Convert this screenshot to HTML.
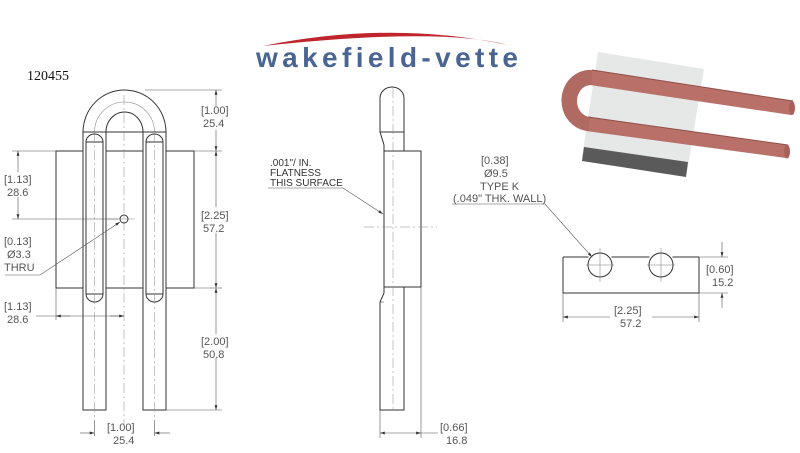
<!DOCTYPE html>
<html><head><meta charset="utf-8"><style>
html,body{margin:0;padding:0;background:#fff;}
svg{display:block}
text{font-family:"Liberation Sans",sans-serif;fill:#555}
</style></head><body>
<svg width="800" height="453" viewBox="0 0 800 453" xmlns="http://www.w3.org/2000/svg">
<defs>
<marker id="a" viewBox="0 0 10 6" refX="10" refY="3" markerWidth="8" markerHeight="5" orient="auto-start-reverse"><path d="M0,0L10,3L0,6z" fill="#333"/></marker>
</defs>
<path d="M263,46 Q390,20 508,45 Q440,27 263,46z" fill="#c0242c"/>
<text x="256" y="67" font-size="28" font-weight="bold" textLength="262" lengthAdjust="spacing" style="fill:#4a6592">wakefield-vette</text>
<text x="27" y="80" font-size="14" style="fill:#111;font-family:'Liberation Serif',serif">120455</text>

<g fill="none" stroke="#333" stroke-width="1">
<rect x="56" y="151" width="138" height="137"/>
<path d="M83,410 V132 A41.5,42 0 0 1 166,132 V410 H143 V132 A18.5,20 0 0 0 106,132 V410 Z" fill="#fff"/>
<line x1="83" y1="132" x2="166" y2="132"/>
<path d="M94.5,132 A30,30 0 0 1 154.5,132" stroke="#888" stroke-width="0.6"/>
<path d="M86,142 A8.5,8 0 0 1 103,142 V294 A8.5,8 0 0 1 86,294 Z"/>
<path d="M146,142 A8.5,8 0 0 1 163,142 V294 A8.5,8 0 0 1 146,294 Z"/>
<line x1="86" y1="142" x2="103" y2="142"/><line x1="86" y1="294" x2="103" y2="294"/>
<line x1="146" y1="142" x2="163" y2="142"/><line x1="146" y1="294" x2="163" y2="294"/>
<line x1="94.5" y1="132" x2="94.5" y2="420" stroke="#888" stroke-width="0.5" stroke-dasharray="10,3,2,3"/>
<line x1="154.5" y1="132" x2="154.5" y2="420" stroke="#888" stroke-width="0.5" stroke-dasharray="10,3,2,3"/>
<line x1="124" y1="95" x2="124" y2="425" stroke="#888" stroke-width="0.5" stroke-dasharray="10,3,2,3"/>
<line x1="106" y1="219" x2="135" y2="219" stroke="#888" stroke-width="0.5"/>
<circle cx="124" cy="219" r="4"/>
<g stroke-width="0.6" stroke="#555">
<line x1="145" y1="90" x2="222" y2="90"/><line x1="194" y1="151" x2="222" y2="151"/>
<line x1="194" y1="288" x2="222" y2="288"/><line x1="166" y1="410" x2="222" y2="410"/>
<line x1="216" y1="90" x2="216" y2="107" marker-start="url(#a)"/><line x1="216" y1="130" x2="216" y2="151" marker-end="url(#a)"/>
<line x1="216" y1="151" x2="216" y2="207" marker-start="url(#a)"/><line x1="216" y1="233" x2="216" y2="288" marker-end="url(#a)"/>
<line x1="216" y1="288" x2="216" y2="334" marker-start="url(#a)"/><line x1="216" y1="358" x2="216" y2="410" marker-end="url(#a)"/>
<line x1="12" y1="151" x2="56" y2="151"/><line x1="12" y1="219" x2="118" y2="219"/>
<line x1="18" y1="151" x2="18" y2="172" marker-start="url(#a)"/><line x1="18" y1="197" x2="18" y2="219" marker-end="url(#a)"/>
<line x1="56" y1="288" x2="56" y2="320"/>
<line x1="36" y1="316" x2="124" y2="316"/>
<line x1="56" y1="316" x2="70" y2="316" marker-start="url(#a)"/><line x1="110" y1="316" x2="124" y2="316" marker-end="url(#a)"/>
<line x1="94.5" y1="420" x2="94.5" y2="436"/><line x1="154.5" y1="420" x2="154.5" y2="436"/>
<line x1="80" y1="433" x2="94.5" y2="433" marker-end="url(#a)"/><line x1="170" y1="433" x2="154.5" y2="433" marker-end="url(#a)"/>
<polyline points="5,275 40,275 120,222" marker-end="url(#a)"/>
</g>

<path d="M380,132 V98 A12,11 0 0 1 404,98 V132 Z"/>
<path d="M380,132 L384,145 V151"/><line x1="404" y1="132" x2="404" y2="151"/>
<rect x="384" y="151" width="37" height="136"/>
<path d="M384,287 V293 L380,302 V410 H404 V287"/>
<line x1="380" y1="302" x2="384" y2="302" stroke-width="0.5"/>
<line x1="393" y1="88" x2="393" y2="412" stroke="#888" stroke-width="0.5" stroke-dasharray="10,3,2,3"/>
<line x1="364" y1="227" x2="437" y2="227" stroke="#888" stroke-width="0.5" stroke-dasharray="10,3,2,3"/>
<g stroke-width="0.6" stroke="#555">
<line x1="380" y1="410" x2="380" y2="438"/><line x1="421" y1="287" x2="421" y2="438"/>
<line x1="380" y1="433" x2="421" y2="433" marker-start="url(#a)" marker-end="url(#a)"/>
<line x1="421" y1="433" x2="438" y2="433"/>
<polyline points="268,188 343,188 383,214" marker-end="url(#a)"/>
</g>

<line x1="563" y1="257" x2="588.5" y2="257"/>
<line x1="611.5" y1="257" x2="649.5" y2="257"/>
<line x1="672.5" y1="257" x2="699" y2="257"/>
<path d="M563,257 V293 H699 V257"/>
<circle cx="600" cy="265" r="12"/>
<circle cx="661" cy="265" r="12"/>
<g stroke="#777" stroke-width="0.5">
<line x1="586" y1="265" x2="614" y2="265"/><line x1="600" y1="248" x2="600" y2="282"/>
<line x1="647" y1="265" x2="675" y2="265"/><line x1="661" y1="248" x2="661" y2="282"/>
</g>
<g stroke-width="0.6" stroke="#555">
<line x1="699" y1="257" x2="728" y2="257"/><line x1="699" y1="293" x2="728" y2="293"/>
<line x1="722" y1="242" x2="722" y2="257" marker-end="url(#a)"/><line x1="722" y1="308" x2="722" y2="293" marker-end="url(#a)"/>
<line x1="563" y1="293" x2="563" y2="322"/><line x1="699" y1="293" x2="699" y2="322"/>
<line x1="563" y1="317" x2="610" y2="317" marker-start="url(#a)"/><line x1="652" y1="317" x2="699" y2="317" marker-end="url(#a)"/>
<polyline points="452,204 545,204 592,257" marker-end="url(#a)"/>
</g>
</g>

<g font-size="11">
<text x="201" y="114">[1.00]</text><text x="203" y="127">25.4</text>
<text x="201" y="219">[2.25]</text><text x="203" y="232">57.2</text>
<text x="201" y="345">[2.00]</text><text x="203" y="358">50.8</text>
<text x="4" y="183">[1.13]</text><text x="7" y="196">28.6</text>
<text x="4" y="245">[0.13]</text><text x="7" y="258">Ø3.3</text><text x="4" y="271">THRU</text>
<text x="4" y="310">[1.13]</text><text x="7" y="323">28.6</text>
<text x="107" y="431">[1.00]</text><text x="113" y="444">25.4</text>
<text x="440" y="431">[0.66]</text><text x="446" y="444">16.8</text>
<text x="481" y="164">[0.38]</text><text x="484" y="177">Ø9.5</text><text x="480" y="190">TYPE K</text>
<text x="453" y="202">(.049" THK. WALL)</text>
<text x="706" y="273">[0.60]</text><text x="712" y="286">15.2</text>
<text x="614" y="314">[2.25]</text><text x="620" y="327">57.2</text>
</g>
<g font-size="10">
<text x="270" y="166" style="fill:#333">.001"/ IN.</text>
<text x="270" y="176" style="fill:#333">FLATNESS</text>
<text x="270" y="186" style="fill:#333">THIS SURFACE</text>
</g>

<polygon points="598,52 704,69 687,172 582,157" fill="#e6e8e8"/>
<polygon points="584,147 688,162 686,177 582,161" fill="#5a5a5a"/>
<path d="M592,70 L793,101 L791,115 L590,85" fill="#b87068"/>
<path d="M588,117 L788,145 L786,158 L586,131" fill="#b87068"/>
<path d="M592,70 A28,30 0 0 0 588,131 L590,117 A14,16 0 0 1 592,85 Z" fill="#b06a62"/>
<path d="M592,70 L793,101" stroke="#8f4f48" stroke-width="1" fill="none"/>
<path d="M588,117 L788,145" stroke="#8f4f48" stroke-width="1" fill="none"/>
<ellipse cx="792" cy="108" rx="3" ry="7" fill="#a96058"/>
<ellipse cx="787" cy="151.5" rx="3" ry="7" fill="#a96058"/>
</svg>
</body></html>
